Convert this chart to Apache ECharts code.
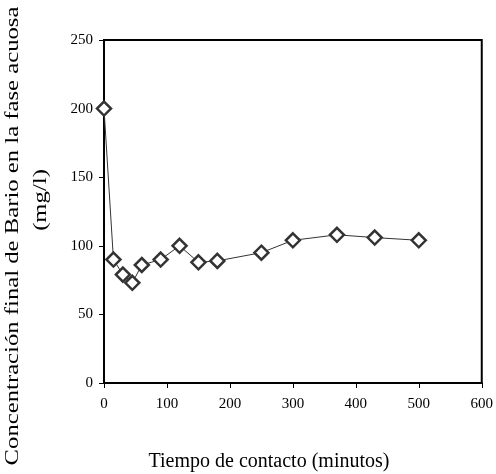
<!DOCTYPE html>
<html>
<head>
<meta charset="utf-8">
<script src="https://cdn.jsdelivr.net/npm/echarts@6/dist/echarts.min.js"></script>
<style>
  html, body { margin: 0; padding: 0; background: #fff; }
  #main { width: 496px; height: 474px; }
</style>
</head>
<body>
<div id="main"></div>
<script>
// tiempo de contacto (minutos)
var tiempo = [0, 15, 30, 45, 60, 90, 120, 150, 180, 250, 300, 370, 430, 500];
// concentración final de bario (mg/l)
var bario = [200, 90, 79, 73, 86, 90, 100, 88, 89, 95, 104, 108, 106, 104];

var xTitulo = 'Tiempo de contacto (minutos)';
var yTitulo1 = 'Concentración final de Bario en la fase acuosa';
var yTitulo2 = '(mg/l)';

var datos = tiempo.map(function (t, i) { return [t, bario[i]]; });

var fuente = '"Liberation Serif", "Times New Roman", serif';

var myChart = echarts.init(document.getElementById('main'));

myChart.setOption({
    animation: false,
    grid: {
        left: 104, top: 40, right: 11, bottom: 91,
        show: true, borderColor: '#000', borderWidth: 2
    },
    xAxis: {
        type: 'value', min: 0, max: 600, interval: 100,
        axisLine: { show: true, lineStyle: { color: '#000', width: 2 } },
        axisTick: { show: true, inside: false, length: 5, lineStyle: { color: '#000' } },
        axisLabel: { color: '#000', fontFamily: fuente, fontSize: 15, margin: 14 },
        splitLine: { show: false }
    },
    yAxis: {
        type: 'value', min: 0, max: 250, interval: 50,
        axisLine: { show: true, lineStyle: { color: '#000', width: 2 } },
        axisTick: { show: true, inside: false, length: 5, lineStyle: { color: '#000' } },
        axisLabel: { color: '#000', fontFamily: fuente, fontSize: 15, margin: 11 },
        splitLine: { show: false }
    },
    graphic: [
        {
            type: 'text', x: 269, y: 462,
            style: { text: xTitulo, font: '20px ' + fuente, fill: '#000', align: 'center', verticalAlign: 'middle' }
        },
        {
            type: 'text', x: 13, y: 236, rotation: Math.PI / 2, scaleX: 1.3,
            style: { text: yTitulo1, font: '19px ' + fuente, fill: '#000', align: 'center', verticalAlign: 'middle' }
        },
        {
            type: 'text', x: 41, y: 200, rotation: Math.PI / 2, scaleX: 1.3,
            style: { text: yTitulo2, font: '19px ' + fuente, fill: '#000', align: 'center', verticalAlign: 'middle' }
        }
    ],
    series: [{
        type: 'line',
        data: datos,
        symbol: 'diamond',
        symbolSize: 14,
        lineStyle: { color: '#333', width: 1 },
        itemStyle: { color: '#fff', borderColor: '#333', borderWidth: 2.5 }
    }]
});
</script>
</body>
</html>
